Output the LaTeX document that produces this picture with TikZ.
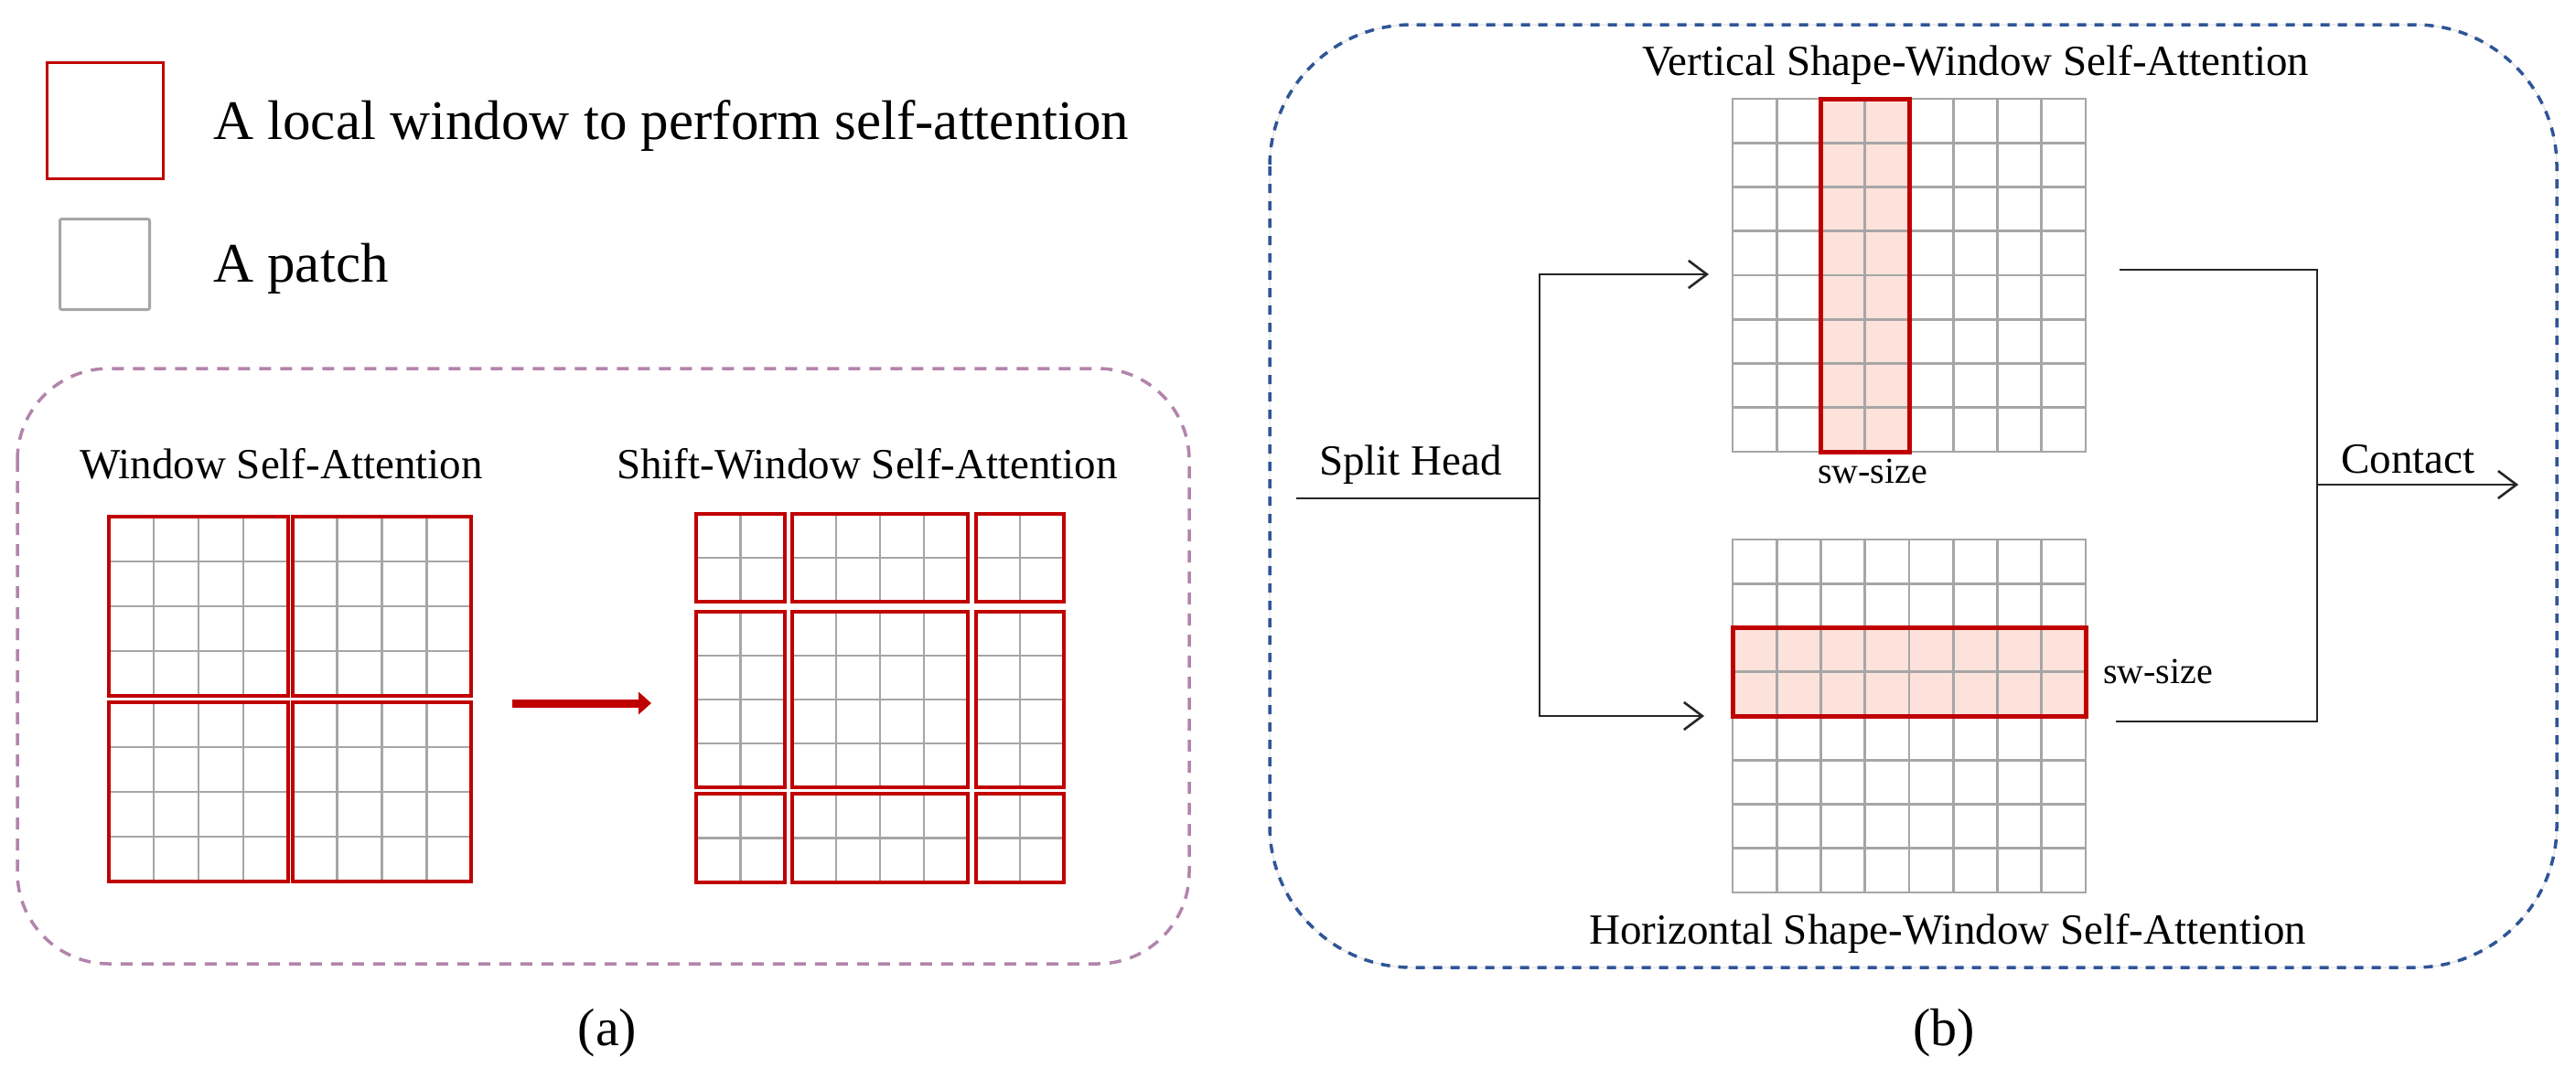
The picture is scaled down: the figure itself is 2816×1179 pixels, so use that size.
\documentclass[tikz,border=0pt]{standalone}
\usepackage{fontspec}
\setmainfont{Liberation Serif}
\usetikzlibrary{arrows.meta}
\definecolor{wred}{HTML}{C00000}
\definecolor{pgray}{HTML}{A6A6A6}
\definecolor{pinkfill}{HTML}{FCE2DA}
\definecolor{boxpurple}{HTML}{B384AB}
\definecolor{boxblue}{HTML}{2F5597}
\definecolor{lineblack}{HTML}{262626}
\newcommand{\cellgrid}[6]{%
  \pgfmathtruncatemacro{\cgnx}{#5-1}%
  \pgfmathtruncatemacro{\cgny}{#6-1}%
  \foreach \k in {1,...,\cgnx}{\draw[gridline] ({#1+(#3-#1)*\k/#5},#2) -- ({#1+(#3-#1)*\k/#5},#4);}%
  \foreach \k in {1,...,\cgny}{\draw[gridline] (#1,{#2+(#4-#2)*\k/#6}) -- (#3,{#2+(#4-#2)*\k/#6});}%
}
\begin{document}
\begin{tikzpicture}[x=1pt,y=-1pt,
  gridline/.style={draw=pgray, line width=2.8pt},
  winframe/.style={draw=wred, line width=4pt},
  conn/.style={draw=lineblack, line width=2.6pt},
  arr/.style={-{Straight Barb[length=20pt,width=30pt,line width=2.6pt]}},
  lbltxt/.style={inner sep=0pt, font=\fontsize{47}{56}\selectfont},
  smalltxt/.style={inner sep=0pt, font=\fontsize{40}{48}\selectfont},
  bigtxt/.style={inner sep=0pt, font=\fontsize{61}{72}\selectfont},
  captxt/.style={inner sep=0pt, font=\fontsize{58}{68}\selectfont}]
\useasboundingbox (0,0) rectangle (2816,1179);
\fill[white] (0,0) rectangle (2816,1179);

% ---------- legend ----------
\node[draw=wred, line width=3.3pt, minimum width=127pt, minimum height=127pt, inner sep=0pt, anchor=north west] (legwin) at (50,67) {};
\node[draw=pgray, line width=3pt, rounded corners=2pt, minimum width=98pt, minimum height=99pt, inner sep=0pt, anchor=north west] (legpatch) at (64,238) {};
\node[bigtxt, anchor=base west] (legwint) at (233,152) {A local window to perform self-attention};
\node[bigtxt, anchor=base west] (legpatcht) at (233,308) {A patch};

% ---------- panel (a) ----------
\draw[boxpurple, line width=3.5pt, dash pattern=on 13pt off 10pt, rounded corners=100pt] (19,403) rectangle (1300,1054);
\node[lbltxt, anchor=base west] (wsa) at (87,523) {Window Self-Attention};
\node[lbltxt, anchor=base west] (swsa) at (674,523) {Shift-Window Self-Attention};

\foreach \ya/\yb in {565/761, 768/964}{
  \foreach \xa/\xb in {119/315, 320/515}{
    \cellgrid{\xa}{\ya}{\xb}{\yb}{4}{4}
    \draw[winframe] (\xa,\ya) rectangle (\xb,\yb);
  }
}

\coordinate (ra1) at (560,769);
\coordinate (ra2) at (712,769);
\draw[draw=wred, line width=9pt, -{Triangle[length=14pt,width=24pt]}] (ra1) -- (ra2);

\foreach \ya/\yb/\ny in {562/658/2, 669/861/4, 868/965/2}{
  \foreach \xa/\xb/\nx in {761/858/2, 866/1058/4, 1067/1163/2}{
    \cellgrid{\xa}{\ya}{\xb}{\yb}{\nx}{\ny}
    \draw[winframe] (\xa,\ya) rectangle (\xb,\yb);
  }
}
\node[captxt, anchor=base] (labela) at (664,1143) {(a)};

% ---------- panel (b) ----------
\draw[gray!25, line width=1pt, rounded corners=155pt] (1388,27) rectangle (2795,1058);
\draw[boxblue, line width=3.5pt, dash pattern=on 10pt off 9pt, rounded corners=155pt] (1388,27) rectangle (2795,1058);

\node[lbltxt, anchor=base west] (vtitle) at (1795,82) {Vertical Shape-Window Self-Attention};
\node[lbltxt, anchor=base west] (htitle) at (1737,1032) {Horizontal Shape-Window Self-Attention};

% vertical shape window grid
\fill[pinkfill] (1990.5,108) rectangle (2087,494);
\draw[gridline] (1894,108) rectangle (2280,494);
\cellgrid{1894}{108}{2280}{494}{8}{8}
\draw[winframe, line width=5pt] (1990.5,108) rectangle (2087,494);
\node[smalltxt, anchor=base west] (swv) at (1987,528) {sw-size};

% horizontal shape window grid
\fill[pinkfill] (1894,686.5) rectangle (2280,783);
\draw[gridline] (1894,590) rectangle (2280,976);
\cellgrid{1894}{590}{2280}{976}{8}{8}
\draw[winframe, line width=5pt] (1894,686.5) rectangle (2280,783);
\node[smalltxt, anchor=base west] (swh) at (2299,747) {sw-size};

% connectors
\coordinate (in) at (1417,545);
\coordinate (fork) at (1683,545);
\coordinate (vin) at (1868,300);
\coordinate (hin) at (1863,783);
\coordinate (vout) at (2317,295);
\coordinate (hout) at (2313,789);
\coordinate (merge) at (2533,530);
\coordinate (out) at (2753,530);
\draw[conn] (in) -- (fork);
\draw[conn, arr] (fork) |- (vin);
\draw[conn, arr] (fork) |- (hin);
\draw[conn] (vout) -| (merge);
\draw[conn] (hout) -| (merge);
\draw[conn, arr] (merge) -- (out);
\node[lbltxt, anchor=base west] (split) at (1442,519) {Split Head};
\node[lbltxt, anchor=base west] (contact) at (2559,517) {Contact};

\node[captxt, anchor=base] (labelb) at (2125,1143) {(b)};
\end{tikzpicture}
\end{document}
